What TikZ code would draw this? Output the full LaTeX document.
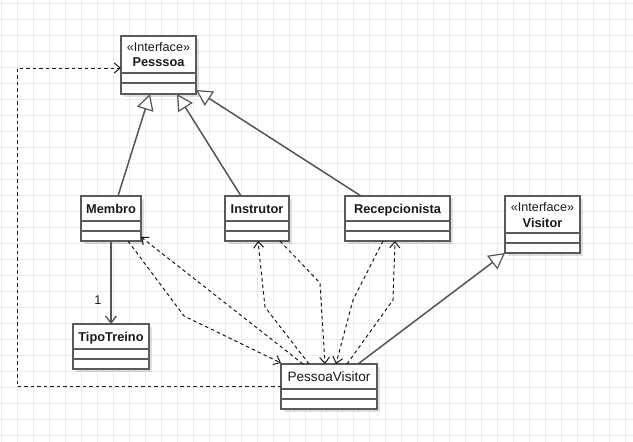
\documentclass[tikz,border=0pt]{standalone}
\usepackage{fontspec}
\setmainfont{Liberation Sans}
\usetikzlibrary{arrows.meta,calc,shadows}
\definecolor{boxline}{HTML}{5A5A5A}
\definecolor{conn}{HTML}{555555}
\definecolor{gridc}{HTML}{EBEBEB}
\definecolor{txt}{HTML}{1A1A1A}
\tikzset{
  classbox/.style={draw=boxline, line width=1.6pt, fill=white, inner sep=0pt, outer sep=0pt,
    drop shadow={shadow xshift=2.5pt, shadow yshift=-2.5pt, opacity=0.12, fill=black}},
  sepline/.style={draw=boxline, line width=1.6pt},
  cname/.style={font=\fontsize{12.8}{14}\selectfont\bfseries, text=txt, inner sep=0pt, anchor=base},
  cnameplain/.style={font=\fontsize{13.6}{15}\selectfont, text=txt, inner sep=0pt, anchor=base},
  stereo/.style={font=\fontsize{12.6}{14}\selectfont, text=txt, inner sep=0pt, anchor=base},
  genline/.style={draw=conn, line width=1.5pt, -{Triangle[fill=white, length=16pt, width=17pt, line width=1.2pt]}},
  assoc/.style={draw=conn, line width=1.5pt, -{Straight Barb[length=7pt, width=11pt, line width=1.3pt]}},
  dep/.style={draw=txt, line width=1pt, dash pattern=on 3.5pt off 3pt, -{Straight Barb[length=6pt, width=10pt, line width=1pt]}},
}
\newcommand{\compart}[3]{%
  \draw[sepline] ([yshift=-#2pt]#1.north west) -- ([yshift=-#2pt]#1.north east);
  \draw[sepline] ([yshift=-#3pt]#1.north west) -- ([yshift=-#3pt]#1.north east);}
\begin{document}
\begin{tikzpicture}[x=1pt, y=-1pt]
\useasboundingbox (0,0) rectangle (633,442);
\fill[white] (0,0) rectangle (633,442);
% grid
\foreach \i in {0,...,39} { \draw[gridc, line width=1pt] ({1+16*\i},0) -- ({1+16*\i},442); }
\foreach \j in {0,...,27} { \draw[gridc, line width=1pt] (0,{3.5+16*\j}) -- (633,{3.5+16*\j}); }

% classes
\node[classbox, minimum width=75pt, minimum height=58pt] (pesssoa) at (158.5,65) {};
\compart{pesssoa}{37}{47}
\node[stereo] (pesssoa-s) at (158.5,51.3) {«Interface»};
\node[cname] (pesssoa-t) at (158.5,66.5) {Pesssoa};

\node[classbox, minimum width=60pt, minimum height=45pt] (membro) at (111,218.5) {};
\compart{membro}{25}{35}
\node[cname] (membro-t) at (111,213.3) {Membro};

\node[classbox, minimum width=64pt, minimum height=45pt] (instrutor) at (257,218.5) {};
\compart{instrutor}{25}{35}
\node[cname] (instrutor-t) at (257,213.3) {Instrutor};

\node[classbox, minimum width=105pt, minimum height=45pt] (recep) at (397.5,218.5) {};
\compart{recep}{25}{35}
\node[cname] (recep-t) at (397.5,213.3) {Recepcionista};

\node[classbox, minimum width=75pt, minimum height=57pt] (visitor) at (542.5,224.5) {};
\compart{visitor}{37}{47}
\node[stereo] (visitor-s) at (542.5,211.3) {«Interface»};
\node[cname] (visitor-t) at (542.5,227) {Visitor};

\node[classbox, minimum width=76pt, minimum height=45pt] (tipo) at (111,346.5) {};
\compart{tipo}{25}{35}
\node[cname] (tipo-t) at (111,341.3) {TipoTreino};

\node[classbox, minimum width=96pt, minimum height=45pt] (pv) at (329,386.5) {};
\compart{pv}{25}{35}
\node[cnameplain] (pv-t) at (329,381.5) {PessoaVisitor};

% generalizations
\draw[genline] ([xshift=7pt]membro.north) -- ([xshift=-8.5pt]pesssoa.south);
\draw[genline] ([xshift=-16pt]instrutor.north) -- ([xshift=18.5pt]pesssoa.south);
\draw[genline] ([xshift=-36.5pt]recep.north) -- ([yshift=4pt]pesssoa.south east);
\draw[genline] ([xshift=29pt]pv.north) -- (visitor.south west);

% association
\draw[assoc] (membro.south) -- (tipo.north);
\node[font=\fontsize{12.6}{14}\selectfont, text=txt, inner sep=0pt] (mult) at (98,300) {1};

% dependencies
\coordinate (c1) at (17,68);
\draw[dep] (pv.west) -| (c1) -- ([yshift=-3pt]pesssoa.west);

\coordinate (w1) at (184,316);
\draw[dep] ([xshift=17pt]membro.south) -- (w1) -- ([yshift=1pt]pv.north west);
\draw[dep] ([xshift=-26pt]pv.north) -- ([yshift=4pt]membro.south east);

\coordinate (w2) at (265,307);
\draw[dep] ([xshift=-20pt]pv.north) -- (w2) -- ([xshift=1pt]instrutor.south);
\coordinate (w3) at (320,283);
\draw[dep] ([xshift=23pt]instrutor.south) -- (w3) -- ([xshift=-4pt]pv.north);

\coordinate (w4) at (353,300);
\draw[dep] ([xshift=-14.5pt]recep.south) -- (w4) -- ([xshift=7pt]pv.north);
\coordinate (w5) at (393,300);
\draw[dep] ([xshift=18pt]pv.north) -- (w5) -- ([xshift=-2.5pt]recep.south);
\end{tikzpicture}
\end{document}
